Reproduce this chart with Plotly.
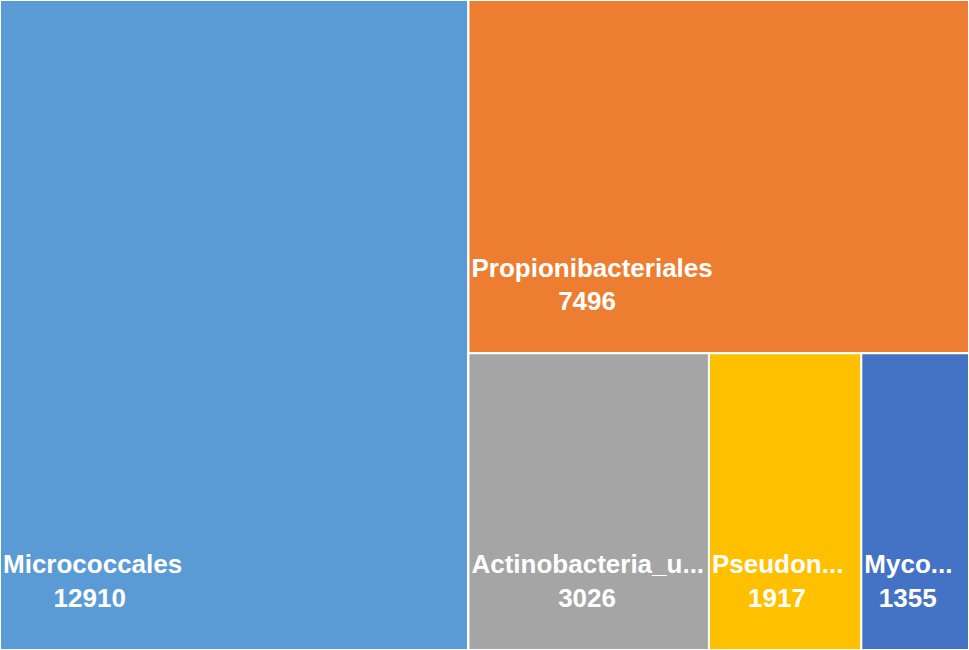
import plotly.graph_objects as go

labels = ["Micrococcales", "Propionibacteriales", "Actinobacteria_u...", "Pseudon...", "Myco..."]
values = [12910, 7496, 3026, 1917, 1355]
colors = ["#5B9BD5", "#ED7D31", "#A5A5A5", "#FFC000", "#4472C4"]

# Approximate Arial-bold advance widths (em) used only to centre the value line under the name
_W = {c: 0.556 for c in "abcdeghnopqsuv0123456789_"}
_W.update({c: 0.278 for c in "ijl.!"})
_W.update({"f": 0.333, "t": 0.333, "r": 0.389, "k": 0.556, "y": 0.556, "m": 0.889, "w": 0.778, "x": 0.556, "z": 0.5,
           "M": 0.833, "P": 0.667, "A": 0.722, "C": 0.722})


def _width(s):
    return sum(_W.get(c, 0.6) for c in s)


def _label_text(name, val):
    num = str(val)
    pad = max(0, int(round((_width(name) - _width(num)) / 2 / 0.278)))
    return "<b>" + name + "</b><br><b>" + "&nbsp;" * pad + num + "</b><br> "


# hierarchy used to reproduce the tiling: big tile | (top tile / bottom row)
ids = ["root", labels[0], "g1", labels[1], "g2", labels[2], labels[3], labels[4]]
parents = ["", "root", "root", "g1", "g1", "g2", "g2", "g2"]
node_labels = ["", labels[0], "", labels[1], "", labels[2], labels[3], labels[4]]
node_values = [0, values[0], 0, values[1], 0, values[2], values[3], values[4]]
node_colors = ["white", colors[0], "white", colors[1], "white", colors[2], colors[3], colors[4]]
node_text = ["", _label_text(labels[0], values[0]), "", _label_text(labels[1], values[1]), "",
             _label_text(labels[2], values[2]), _label_text(labels[3], values[3]), _label_text(labels[4], values[4])]

fig = go.Figure(go.Treemap(
    ids=ids,
    labels=node_labels,
    parents=parents,
    values=node_values,
    text=node_text,
    textinfo="text",
    branchvalues="remainder",
    marker=dict(colors=node_colors, line=dict(color="white", width=2), pad=dict(t=0, l=0, r=0, b=0)),
    tiling=dict(packing="slice-dice", pad=0),
    textposition="bottom left",
    textfont=dict(family="Liberation Sans, Arial, sans-serif", size=26, color="white"),
    pathbar=dict(visible=False),
    hoverinfo="skip",
    sort=False,
))
fig.update_layout(
    width=969, height=650,
    margin=dict(l=0, r=0, t=0, b=0),
    paper_bgcolor="white",
    uniformtext=dict(minsize=26, mode="show"),
    hovermode=False,
)
fig.write_html(
    "out.html",
    config={"displayModeBar": False, "staticPlot": True},
    post_script="document.body.style.margin='0';document.body.style.overflow='hidden';",
)
